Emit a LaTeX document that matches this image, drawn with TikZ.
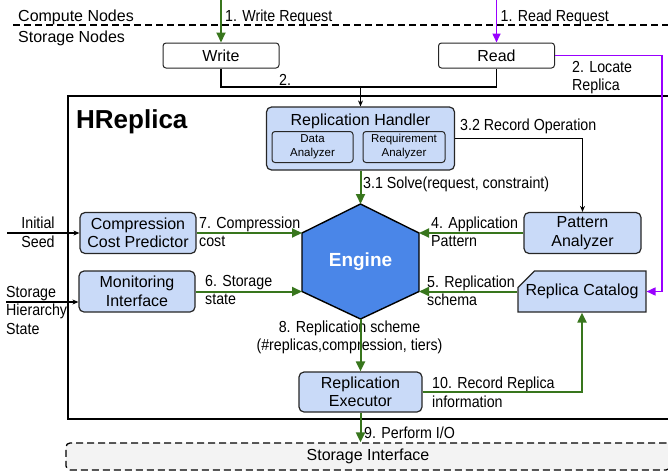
\documentclass[tikz,border=0pt]{standalone}
\usepackage{fontspec}
\setmainfont{Liberation Sans}
\newfontfamily\lblfont[FakeStretch=0.89]{Liberation Sans}
\usetikzlibrary{arrows.meta,shapes.misc}

\definecolor{hrblue}{HTML}{C9DAF8}
\definecolor{hrengine}{HTML}{4A86E8}
\definecolor{hrgreen}{HTML}{38761D}
\definecolor{hrpurple}{HTML}{9900FF}
\definecolor{hrgray}{HTML}{F3F3F3}

\tikzset{
  comp/.style={draw=black!85, line width=1.2pt, fill=hrblue, rounded corners=5pt,
    align=center, inner sep=0pt, font=\fontsize{16}{18.5}\selectfont},
  plain/.style={draw=black!85, line width=1pt, fill=white, rounded corners=3pt,
    inner sep=0pt, font=\fontsize{16}{18.5}\selectfont},
  sub/.style={comp, line width=1pt, rounded corners=3pt, font=\fontsize{11.5}{14}\selectfont},
  catalog/.style={draw=black!85, line width=1.2pt, fill=hrblue, chamfered rectangle,
    chamfered rectangle corners=north west, chamfered rectangle xsep=24pt,
    chamfered rectangle ysep=9pt, inner sep=0pt, font=\fontsize{16}{18.5}\selectfont},
  lbl/.style={anchor=west, align=left, inner sep=0pt, font=\lblfont\fontsize{16}{18.5}\selectfont},
  txt/.style={anchor=west, align=left, inner sep=0pt, font=\fontsize{16}{18.5}\selectfont},
  sep/.style={line width=1.3pt, dash pattern=on 7pt off 4pt},
  flow/.style={draw=hrgreen, line width=2pt, -{Triangle[length=10pt,width=9pt]}},
  rflow/.style={draw=hrpurple, line width=1.6pt, -{Triangle[length=9pt,width=8pt]}},
  ctrl/.style={draw=black, line width=1.1pt, -{Stealth[length=6pt,width=5pt]}},
}

\begin{document}
\begin{tikzpicture}[x=1pt,y=-1pt]
  \useasboundingbox (0,0) rectangle (668,474);

  % compute / storage split
  \node[txt] (computelbl) at (18,17) {Compute Nodes};
  \node[txt] (storagelbl) at (18,38) {Storage Nodes};
  \draw[sep] (13,25) -- (672,25);

  % request entry points
  \node[plain, minimum width=116pt, minimum height=25pt] (write) at (221,55.5) {Write};
  \node[plain, minimum width=116pt, minimum height=25pt] (read) at (496.5,55.5) {Read};
  \coordinate (wreq) at (221,0);
  \coordinate (rreq) at (496.5,0);
  \coordinate (join) at (360.5,87);
  \coordinate (rcorner) at (662,55.5);

  % main frame
  \node[draw, line width=1.6pt, minimum width=604pt, minimum height=323pt, inner sep=0pt]
    (core) at (370,257.5) {};
  \node[anchor=west, inner sep=0pt, font=\bfseries\fontsize{26}{30}\selectfont]
    (title) at (76,122) {HReplica};

  % handler with its analyzers
  \node[comp, minimum width=188pt, minimum height=63pt] (handler) at (360.5,138.5) {};
  \node[inner sep=0pt, font=\fontsize{16}{18.5}\selectfont] (handlertitle) at (360.5,121) {Replication Handler};
  \node[sub, minimum width=81pt, minimum height=31pt] (dataan) at (312.5,147) {Data\\Analyzer};
  \node[sub, minimum width=82pt, minimum height=31pt] (reqan) at (404,147) {Requirement\\Analyzer};

  % side components
  \node[comp, minimum width=116pt, minimum height=41pt] (ccp) at (138,233) {Compression\\Cost Predictor};
  \node[comp, minimum width=116pt, minimum height=41pt] (monitor) at (137,291.5) {Monitoring\\Interface};
  \node[comp, minimum width=117pt, minimum height=41pt] (pattern) at (582.5,233) {Pattern\\Analyzer};
  \node[catalog, minimum width=116pt, minimum height=41pt] (catalog) at (582,291.5) {Replica Catalog};
  \node[comp, minimum width=123pt, minimum height=40pt] (executor) at (360.5,392) {Replication\\Executor};

  % engine hexagon
  \coordinate (eng-n) at (360.5,204);
  \coordinate (eng-ne) at (419,233);
  \coordinate (eng-se) at (419,291.5);
  \coordinate (eng-s) at (360.5,319);
  \coordinate (eng-sw) at (302,291.5);
  \coordinate (eng-nw) at (302,233);
  \filldraw[fill=hrengine, draw=black, line width=1.4pt, line join=miter]
    (eng-n) -- (eng-ne) -- (eng-se) -- (eng-s) -- (eng-sw) -- (eng-nw) -- cycle;
  \node[text=white, font=\bfseries\fontsize{19}{22}\selectfont] (engine) at (360.5,262) {Engine};

  % storage layer
  \node[draw, sep, fill=hrgray, rounded corners=4pt, minimum width=604pt, minimum height=27pt,
    inner sep=0pt, font=\fontsize{16}{18.5}\selectfont] (storage) at (368,456.5) {Storage Interface};

  % external inputs
  \node[lbl, anchor=center, align=center] (seed) at (38,232.5) {Initial\\Seed};
  \node[lbl] (hier) at (6,310) {Storage\\Hierarchy\\State};
  \coordinate (seedin) at (7,233);
  \coordinate (hierin) at (6,302);

  % step labels
  \node[lbl] (l1w) at (225,17) {1. Write Request};
  \node[lbl] (l1r) at (500.5,17) {1. Read Request};
  \node[lbl] (l2) at (279,80) {2.};
  \node[lbl] (l2loc) at (572,77.5) {2. Locate\\Replica};
  \node[lbl] (l32) at (460,126) {3.2 Record Operation};
  \node[lbl] (l31) at (363,184) {3.1 Solve(request, constraint)};
  \node[lbl] (l7) at (199,232) {7. Compression\\cost};
  \node[lbl] (l6) at (205,290) {6. Storage\\state};
  \node[lbl] (l4) at (431,232) {4. Application\\Pattern};
  \node[lbl] (l5) at (427,291) {5. Replication\\schema};
  \node[lbl, anchor=center, align=center] (l8) at (349.5,337.5) {8. Replication scheme\\(\#replicas,compression, tiers)};
  \node[lbl] (l10) at (432,392.5) {10. Record Replica\\information};
  \node[lbl] (l9) at (364,433) {9. Perform I/O};

  % connectors
  \draw[flow] (wreq) -- (write.north);
  \draw[rflow] (rreq) -- (read.north);
  \draw[ctrl, -] (write.south) |- (join) -| (read.south);
  \draw[ctrl] (join) -- (handler.north);
  \draw[rflow] (read.east) -- (rcorner) |- (catalog.east);
  \draw[ctrl] (handler.east) -| (pattern.north);
  \draw[flow] (handler.south) -- (eng-n);
  \draw[flow] (ccp.east) -- (eng-nw);
  \draw[flow] (monitor.east) -- (eng-sw);
  \draw[flow] (pattern.west) -- (eng-ne);
  \draw[flow] (catalog.west) -- (eng-se);
  \draw[flow] (eng-s) -- (executor.north);
  \draw[flow] (executor.east) -| (catalog.south);
  \draw[flow] (executor.south) -- (executor.south |- storage.north);
  \draw[ctrl] (seedin) -- (ccp.west);
  \draw[ctrl] (hierin) -- (hierin -| monitor.west);
\end{tikzpicture}
\end{document}
